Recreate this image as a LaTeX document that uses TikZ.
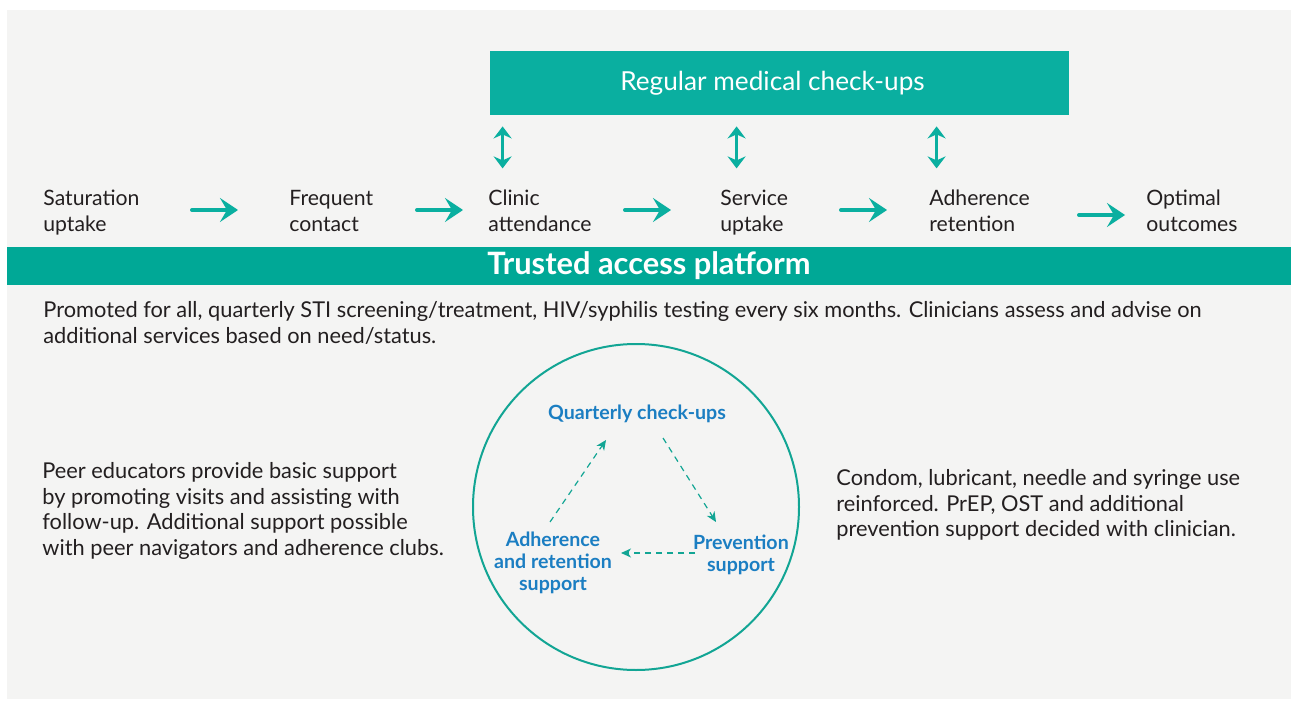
\documentclass[tikz,border=0pt]{standalone}
\usepackage{fontspec}
\setmainfont{Lato}
\usetikzlibrary{arrows.meta,calc}
\definecolor{panel}{HTML}{F4F4F3}
\definecolor{tealbox}{HTML}{0AAFA0}
\definecolor{tealband}{HTML}{00A896}
\definecolor{tealline}{HTML}{12A594}
\definecolor{cycblue}{HTML}{1B7EC2}
\definecolor{bodytext}{HTML}{231F20}
\begin{document}
\begin{tikzpicture}[x=0.5pt, y=-0.5pt,
  every node/.style = {inner sep=0pt, text=bodytext, font=\fontsize{10.9}{12.8}\selectfont},
  step label/.style = {anchor=north west, align=left, font=\fontsize{10.6}{13}\selectfont},
  para/.style = {anchor=north west, align=left},
  cyc label/.style = {align=center, text=cycblue, font=\fontsize{9.8}{11}\selectfont\bfseries},
  flowarrow/.style = {tealbox, line width=2pt, line cap=round, -{Stealth[length=9pt, width=12pt, inset=3.5pt]}},
  updown/.style = {tealbox, line width=1.6pt, {Stealth[length=6pt, width=9pt, inset=2pt]}-{Stealth[length=6pt, width=9pt, inset=2pt]}},
  dasharrow/.style = {tealline, line width=0.6pt, dash pattern=on 3pt off 2.5pt, -{Stealth[length=5pt, width=4.5pt, inset=1.5pt]}}]
  \useasboundingbox (0,0) rectangle (1291,701);
  \fill[panel] (7,10) rectangle (1291,699);

  \node[fill=tealbox, minimum width=289.5pt, minimum height=32pt, text=white,
    font=\fontsize{13.1}{15}\selectfont] (regular) at (779.5,83) {\hspace*{-7pt}Regular medical check-ups};
  \foreach \x in {13,247,447}
    \draw[updown] ($(regular.south west)+(\x,11)$) -- ++(0,42);

  \node[step label] (satur)   at (43,187)   {\strut Saturation\\uptake};
  \node[step label] (freq)    at (289,187)  {\strut Frequent\\contact};
  \node[step label] (clinic)  at (488,187)  {\strut Clinic\\attendance};
  \node[step label] (service) at (720,187)  {\strut Service\\uptake};
  \node[step label] (adher)   at (929,187)  {\strut Adherence\\retention};
  \node[step label] (optimal) at (1146,187) {\strut Optimal\\outcomes};
  \foreach \b/\g/\d in {freq/51/23, clinic/25/23, service/49/23, adher/42/23, optimal/21/28}
    \draw[flowarrow] ($(\b.north west)+(-\g-46,\d)$) -- ($(\b.north west)+(-\g,\d)$);

  \node[fill=tealband, minimum width=642pt, minimum height=19pt, text=white,
    font=\fontsize{15.4}{17}\selectfont\bfseries] (platform) at (649,266) {Trusted access platform};

  \node[para] (promoted) at (43,301) {Promoted for all, quarterly STI screening/treatment, HIV/syphilis testing every six months. Clinicians assess and advise on\\additional services based on need/status.};
  \node[para] (peer) at (42,462) {Peer educators provide basic support\\by promoting visits and assisting with\\follow-up. Additional support possible\\with peer navigators and adherence clubs.};
  \node[para] (condom) at (836,469) {Condom, lubricant, needle and syringe use\\reinforced. PrEP, OST and additional\\prevention support decided with clinician.};

  \node[draw=tealline, line width=1pt, circle, minimum size=163pt] (cycle) at (636,507) {};
  \node[cyc label] (quarterly) at (637,414) {Quarterly check-ups};
  \node[cyc label] (adhsup) at (553,563) {Adherence\\and retention\\support};
  \node[cyc label] (prevsup) at (741,555) {Prevention\\support};
  \draw[dasharrow] ($(adhsup)+(-3,-41)$) -- ($(quarterly)+(-31,26)$);
  \draw[dasharrow] ($(quarterly)+(26,24)$) -- ($(prevsup)+(-25,-33)$);
  \draw[dasharrow] ($(prevsup)+(-46,-2)$) -- ($(adhsup)+(68,-10)$);
\end{tikzpicture}
\end{document}
